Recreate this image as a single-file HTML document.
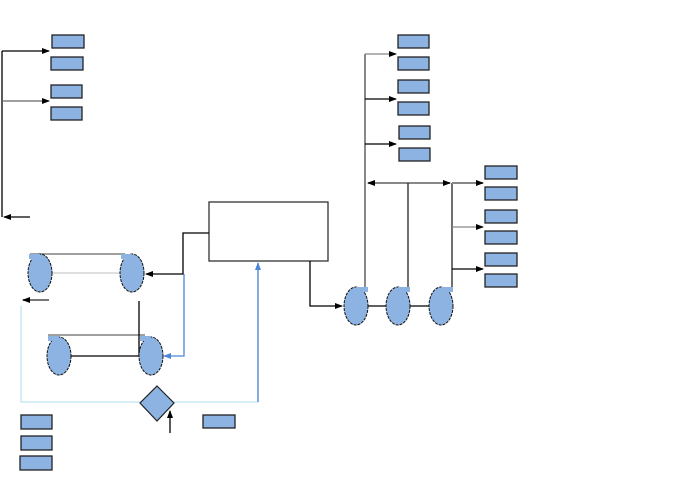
<!DOCTYPE html>
<html><head><meta charset="utf-8"><style>html,body{margin:0;padding:0;background:#fff}svg{display:block}</style></head>
<body>
<svg width="692" height="483" viewBox="0 0 692 483" xmlns="http://www.w3.org/2000/svg">
<defs>
<marker id="a" markerWidth="8" markerHeight="8" refX="7" refY="4" orient="auto" markerUnits="userSpaceOnUse"><path d="M0,1 L8,4 L0,7 z" fill="#000"/></marker>
<marker id="ab" markerWidth="8" markerHeight="8" refX="7" refY="4" orient="auto" markerUnits="userSpaceOnUse"><path d="M0,1 L8,4 L0,7 z" fill="#4a86d8"/></marker>
<marker id="as" markerWidth="8" markerHeight="8" refX="1" refY="4" orient="auto" markerUnits="userSpaceOnUse"><path d="M8,1 L0,4 L8,7 z" fill="#000"/></marker>
</defs>
<g fill="#8db3e2" stroke="#222" stroke-width="1.3">
<rect x="52" y="35" width="32" height="13"/><rect x="51" y="57" width="32" height="13"/>
<rect x="51" y="85" width="31" height="13"/><rect x="51" y="107" width="31" height="13"/>
<rect x="398" y="35" width="31" height="13"/><rect x="398" y="57" width="31" height="13"/>
<rect x="398" y="80" width="31" height="13"/><rect x="398" y="102" width="31" height="13"/>
<rect x="399" y="126" width="31" height="13"/><rect x="399" y="148" width="31" height="13"/>
<rect x="485" y="166" width="32" height="13"/><rect x="485" y="187" width="32" height="13"/>
<rect x="485" y="210" width="32" height="13"/><rect x="485" y="231" width="32" height="13"/>
<rect x="485" y="253" width="32" height="13"/><rect x="485" y="274" width="32" height="13"/>
<rect x="21" y="415" width="31" height="14"/><rect x="21" y="436" width="31" height="14"/>
<rect x="20" y="456" width="32" height="14"/><rect x="203" y="415" width="32" height="13"/>
</g>
<g fill="none" stroke-width="1.3">
<path d="M2,51 V217" stroke="#000"/>
<path d="M2,51 H49" stroke="#000" marker-end="url(#a)"/>
<path d="M2,101 H49" stroke="#666" marker-end="url(#a)"/>
<path d="M30,217 H4" stroke="#000" marker-end="url(#a)"/>
<path d="M365,54 V290" stroke="#888" stroke-width="2"/>
<path d="M365,54 H396" stroke="#888" marker-end="url(#a)"/>
<path d="M365,99 H396" stroke="#000" marker-end="url(#a)"/>
<path d="M365,144 H396" stroke="#000" marker-end="url(#a)"/>
<path d="M368,183 H450" stroke="#888" stroke-width="2" marker-start="url(#as)" marker-end="url(#a)"/>
<path d="M408,183 V288 M452,183 V288" stroke="#222"/>
<path d="M452,183 H483" stroke="#888" stroke-width="2" marker-end="url(#a)"/>
<path d="M452,227 H483" stroke="#888" marker-end="url(#a)"/>
<path d="M452,269 H483" stroke="#000" marker-end="url(#a)"/>
<rect x="209" y="202" width="119" height="59" stroke="#333" fill="#fff"/>
<path d="M310,261 V306 H342" stroke="#000" marker-end="url(#a)"/>
<path d="M356,306 H441" stroke="#000"/>
<path d="M209,233 H183 V274 H146" stroke="#000" marker-end="url(#a)"/>
<path d="M184,274 V356 H164" stroke="#4a86d8" marker-end="url(#ab)"/>
<path d="M30,254 H125" stroke="#666"/>
<path d="M40,273 H128" stroke="#ccc"/>
<path d="M48,335 H145" stroke="#666"/>
<path d="M60,356 H147" stroke="#000"/>
<path d="M139,301 V355" stroke="#000"/>
<path d="M49,300 H23" stroke="#777" stroke-width="2" marker-end="url(#a)"/>
<path d="M21,306 V402 H258 V263" stroke="#bfe3f5"/>
<path d="M258,402 V263" stroke="#4a86d8" marker-end="url(#ab)"/>
<path d="M170,433 V411" stroke="#000" marker-end="url(#a)"/>
</g>
<g fill="#8db3e2" stroke="#111" stroke-width="1" stroke-dasharray="3,1">
<ellipse cx="356" cy="306" rx="12" ry="19"/><rect x="356" y="287" width="12" height="5" stroke-dasharray="none" stroke="none"/>
<ellipse cx="398" cy="306" rx="12" ry="19"/><rect x="398" y="287" width="12" height="5" stroke="none"/>
<ellipse cx="441" cy="306" rx="12" ry="19"/><rect x="441" y="287" width="12" height="5" stroke="none"/>
<ellipse cx="40" cy="273" rx="12" ry="19"/><rect x="29" y="254" width="11" height="5" stroke="none"/>
<ellipse cx="132" cy="273" rx="12" ry="19"/><rect x="121" y="254" width="11" height="5" stroke="none"/>
<ellipse cx="59" cy="356" rx="12" ry="19"/><rect x="48" y="336" width="11" height="5" stroke="none"/>
<ellipse cx="151" cy="356" rx="12" ry="19"/><rect x="140" y="336" width="11" height="5" stroke="none"/>
</g>
<polygon points="157,386 174,403 157,421 140,403" fill="#8db3e2" stroke="#222" stroke-width="1.2"/>
</svg>
</body></html>
